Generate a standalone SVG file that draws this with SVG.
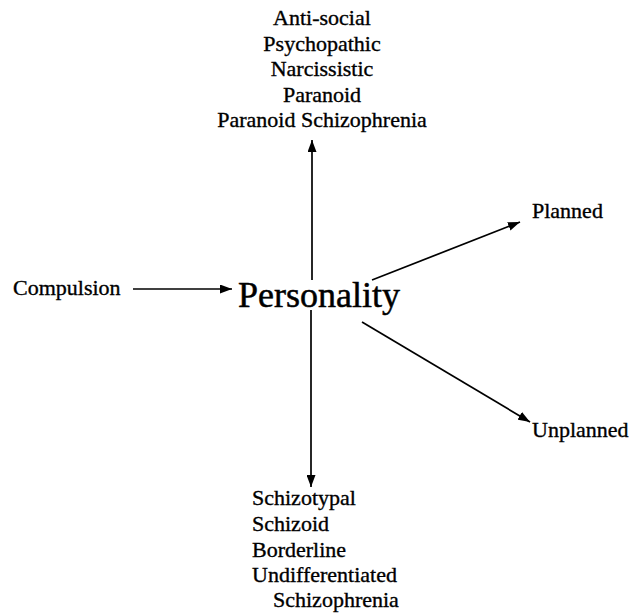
<svg xmlns="http://www.w3.org/2000/svg" width="632" height="614" viewBox="0 0 632 614">
<style>
text{font-family:"Liberation Serif","Times New Roman",serif;fill:#000;stroke:#000;stroke-width:0.35;font-size:22px}
.big{font-size:36px;stroke-width:0.5}
.c{text-anchor:middle}
.edge{stroke:#000;stroke-width:1.7;fill:none}
</style>
<defs>
<marker id="ah" viewBox="0 0 12 9" refX="12" refY="4.5" markerWidth="12" markerHeight="9" markerUnits="userSpaceOnUse" orient="auto">
<path d="M0,0 L12,4.5 L0,9 Z" fill="#000"/>
</marker>
</defs>
<rect width="632" height="614" fill="#fff"/>
<g id="connectors">
<line class="edge" x1="133" y1="289" x2="232" y2="289" marker-end="url(#ah)"/>
<line class="edge" x1="312" y1="280" x2="312" y2="140" marker-end="url(#ah)"/>
<line class="edge" x1="311" y1="310" x2="311" y2="487" marker-end="url(#ah)"/>
<line class="edge" x1="372" y1="280" x2="520" y2="222" marker-end="url(#ah)"/>
<line class="edge" x1="362" y1="322" x2="530" y2="422" marker-end="url(#ah)"/>
</g>
<g id="personality"><text class="big" x="238" y="307">Personality</text></g>
<g id="compulsion"><text x="13" y="295">Compulsion</text></g>
<g id="top-group">
<text class="c" x="322" y="25">Anti-social</text>
<text class="c" x="322" y="50.5">Psychopathic</text>
<text class="c" x="322" y="76">Narcissistic</text>
<text class="c" x="322" y="101.5">Paranoid</text>
<text class="c" x="322" y="127">Paranoid Schizophrenia</text>
</g>
<g id="planned"><text x="532" y="218">Planned</text></g>
<g id="unplanned"><text x="532" y="437">Unplanned</text></g>
<g id="bottom-group">
<text x="252" y="505">Schizotypal</text>
<text x="252" y="531">Schizoid</text>
<text x="252" y="557">Borderline</text>
<text x="252" y="582">Undifferentiated</text>
<text x="273" y="607">Schizophrenia</text>
</g>
</svg>
